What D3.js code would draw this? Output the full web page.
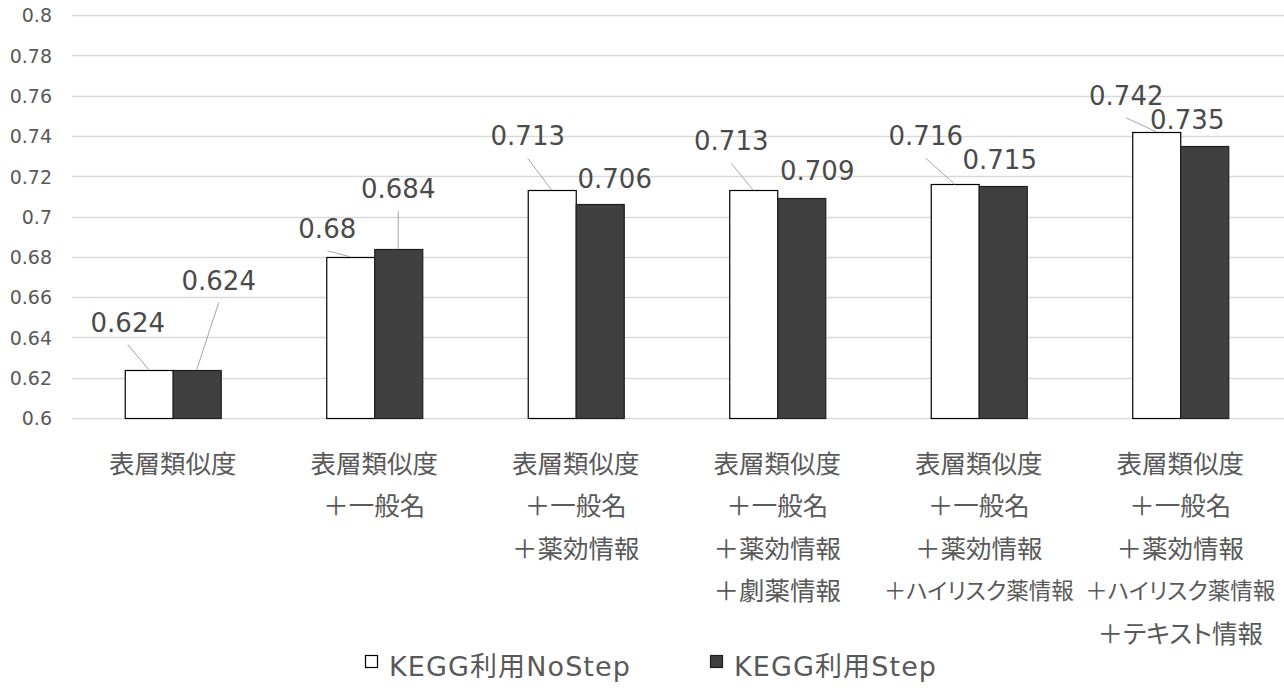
<!DOCTYPE html>
<html>
<head>
<meta charset="utf-8">
<script src="https://cdn.jsdelivr.net/npm/d3@7"></script>
<style>
  body { margin: 0; background: #fff; }
  svg { display: block; }
  .jp { font-family: "Noto Sans CJK JP", "Noto Sans", sans-serif; font-feature-settings: "palt"; }
  .num { font-family: "DejaVu Sans", Verdana, sans-serif; }
  .legend-text { font-family: "DejaVu Sans", "Noto Sans CJK JP", sans-serif; }
</style>
</head>
<body>
<svg id="chart" width="1284" height="688"></svg>
<script>
// Category labels (one entry per line)
const categories = [
  ["表層類似度"],
  ["表層類似度", "＋一般名"],
  ["表層類似度", "＋一般名", "＋薬効情報"],
  ["表層類似度", "＋一般名", "＋薬効情報", "＋劇薬情報"],
  ["表層類似度", "＋一般名", "＋薬効情報", "＋ハイリスク薬情報"],
  ["表層類似度", "＋一般名", "＋薬効情報", "＋ハイリスク薬情報", "＋テキスト情報"]
];
const seriesNames = ["KEGG利用NoStep", "KEGG利用Step"];
const noStepValues = [0.624, 0.68, 0.713, 0.713, 0.716, 0.742];
const stepValues = [0.624, 0.684, 0.706, 0.709, 0.715, 0.735];
const yTicks = [0.6, 0.62, 0.64, 0.66, 0.68, 0.7, 0.72, 0.74, 0.76, 0.78, 0.8];

// Value label placement relative to the top centre of each bar, plus leader-line flags
const noStepLabelOffset = [[-21, -47], [-23, -28], [-24, -54], [-22, -49], [-29, -48], [-30, -36]];
const stepLabelOffset = [[22, -89], [0, -60], [15, -25], [16, -27], [-3, -26], [-17, -26]];
const noStepLeader = [true, true, true, true, true, true];
const stepLeader = [true, true, false, false, false, false];

const series = [
  { name: seriesNames[0], values: noStepValues, offsets: noStepLabelOffset, leaders: noStepLeader, fill: "#ffffff", stroke: "#000000" },
  { name: seriesNames[1], values: stepValues, offsets: stepLabelOffset, leaders: stepLeader, fill: "#404040", stroke: "#1f1f1f" }
];

const svg = d3.select("#chart");
const plot = { left: 72, right: 1281, top: 15, bottom: 418 };

const y = d3.scaleLinear().domain([0.6, 0.8]).range([plot.bottom, plot.top]);
const x0 = d3.scaleBand().domain(d3.range(categories.length)).range([plot.left, plot.right]).padding(0);
const groupW = x0.bandwidth() * 0.476;
const x1 = d3.scaleBand().domain(d3.range(series.length)).range([-groupW / 2, groupW / 2]).padding(0);

// Gridlines
svg.append("g")
  .selectAll("line")
  .data(yTicks)
  .join("line")
  .attr("x1", plot.left)
  .attr("x2", 1284)
  .attr("y1", d => Math.round(y(d)) + 0.5)
  .attr("y2", d => Math.round(y(d)) + 0.5)
  .attr("stroke", "#d9d9d9")
  .attr("stroke-width", 1.4);

// Y axis labels
const yAxis = d3.axisLeft(y).tickValues(yTicks).tickSize(0).tickPadding(0)
  .tickFormat(d => String(+d.toFixed(2)));
const yAxisG = svg.append("g").attr("transform", "translate(52,0)").call(yAxis);
yAxisG.select(".domain").remove();
yAxisG.selectAll("text")
  .attr("class", "num")
  .attr("font-size", 19)
  .attr("fill", "#595959")
  .attr("dy", "0.36em");

// Bars
const groups = svg.append("g")
  .selectAll("g")
  .data(categories.map((c, i) => i))
  .join("g")
  .attr("transform", i => `translate(${x0(i) + x0.bandwidth() / 2},0)`);

series.forEach((s, si) => {
  groups.append("rect")
    .attr("x", i => Math.round(x1(si)) + 0.5)
    .attr("y", i => Math.round(y(s.values[i])) + 0.5)
    .attr("width", Math.round(x1.bandwidth()))
    .attr("height", i => Math.round(y(0.6)) - Math.round(y(s.values[i])))
    .attr("fill", s.fill)
    .attr("stroke", s.stroke)
    .attr("stroke-width", 1.2);
});

// Value labels with leader lines
series.forEach((s, si) => {
  const cx = i => x1(si) + x1.bandwidth() / 2;
  groups.filter(i => s.leaders[i])
    .append("line")
    .attr("x1", i => cx(i) + s.offsets[i][0])
    .attr("y1", i => y(s.values[i]) + s.offsets[i][1] + 22)
    .attr("x2", i => cx(i))
    .attr("y2", i => y(s.values[i]))
    .attr("stroke", "#a6a6a6")
    .attr("stroke-width", 1);
  groups.append("text")
    .attr("class", "num")
    .attr("x", i => cx(i) + s.offsets[i][0])
    .attr("y", i => y(s.values[i]) + s.offsets[i][1])
    .attr("text-anchor", "middle")
    .attr("dominant-baseline", "central")
    .attr("font-size", 26)
    .attr("fill", "#4a4a4a")
    .text(i => String(s.values[i]));
});

// Category labels; long lines are scaled down so neighbouring labels don't collide
const catFontSize = 25.5;
const maxLineW = 190;
groups.append("text")
  .attr("class", "jp")
  .attr("text-anchor", "middle")
  .attr("fill", "#595959")
  .selectAll("tspan")
  .data(i => categories[i])
  .join("tspan")
  .attr("x", 0)
  .attr("y", (d, k) => 461 + k * 42.6)
  .attr("dominant-baseline", "central")
  .attr("font-size", catFontSize)
  .text(d => d)
  .each(function () {
    const w = this.getComputedTextLength();
    if (w > maxLineW) {
      d3.select(this).attr("font-size", (catFontSize * maxLineW / w).toFixed(2));
    }
  });

// Legend
const legendX = [365, 710];
const legend = svg.append("g")
  .selectAll("g")
  .data(series)
  .join("g")
  .attr("transform", (d, i) => `translate(${legendX[i]},666)`);
legend.append("rect")
  .attr("x", 0.5).attr("y", -10.5)
  .attr("width", 12).attr("height", 12)
  .attr("fill", d => d.fill)
  .attr("stroke", d => d.stroke)
  .attr("stroke-width", 1.2);
legend.append("text")
  .attr("class", "legend-text")
  .attr("x", 24)
  .attr("y", 0)
  .attr("dominant-baseline", "central")
  .attr("font-size", 27)
  .attr("letter-spacing", 1.1)
  .attr("fill", "#595959")
  .text(d => d.name);
</script>
</body>
</html>
